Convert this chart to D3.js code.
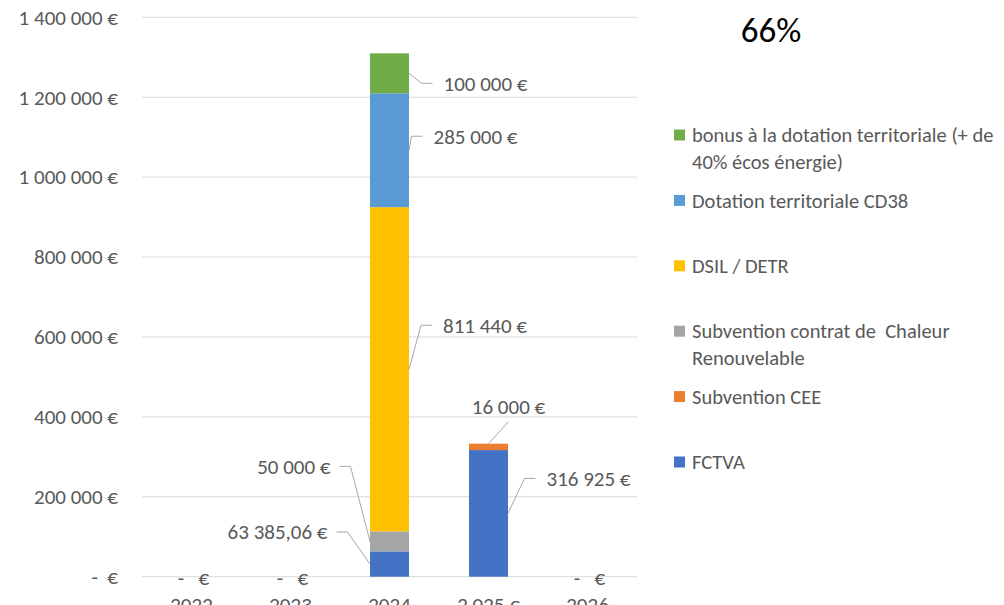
<!DOCTYPE html>
<html>
<head>
<meta charset="utf-8">
<script src="https://cdn.jsdelivr.net/npm/d3@7"></script>
<style>
  html, body { margin: 0; padding: 0; background: #fff; }
  svg { display: block; }
  text { font-family: Carlito, Calibri, Lato, sans-serif; }
</style>
</head>
<body>
<svg id="chart" width="1004" height="605"></svg>
<script>
// ---------- data ----------
const categories = ["2022", "2023", "2024", "2 025 €", "2026"];
const fctva    = [0, 0, 63385.06, 316925, 0];
const cee      = [0, 0, 0, 16000, 0];
const chaleur  = [0, 0, 50000, 0, 0];
const dsil     = [0, 0, 811440, 0, 0];
const dotation = [0, 0, 285000, 0, 0];
const bonus    = [0, 0, 100000, 0, 0];
const seriesKeys = ["FCTVA", "Subvention CEE", "Subvention contrat de  Chaleur Renouvelable", "DSIL / DETR", "Dotation territoriale CD38", "bonus à la dotation territoriale (+ de 40% écos énergie)"];
const seriesValues = [fctva, cee, chaleur, dsil, dotation, bonus];
const legendLines = [
  ["FCTVA"],
  ["Subvention CEE"],
  ["Subvention contrat de  Chaleur", "Renouvelable"],
  ["DSIL / DETR"],
  ["Dotation territoriale CD38"],
  ["bonus à la dotation territoriale (+ de", "40% écos énergie)"]
];
const yTicks = [0, 200000, 400000, 600000, 800000, 1000000, 1200000, 1400000];
const title = "66%";

// ---------- style / layout ----------
const colors = ["#4472C4", "#ED7D31", "#A5A5A5", "#FFC000", "#5B9BD5", "#70AD47"];
const textColor = "#595959";
const gridColor = "#D9D9D9";
const leaderColor = "#A6A6A6";
const fs = 21;
const legendFs = 20.5;
// label placement offsets (dx, dy from the anchor on the segment), side: 1 right, -1 left, 0 above
const labelLayout = [
  {s: 0, c: 2, dx: -42.5, dy: -32, side: -1},
  {s: 2, c: 2, dx: -39.5, dy: -75, side: -1},
  {s: 3, c: 2, dx: 34, dy: -44, side: 1},
  {s: 4, c: 2, dx: 24.5, dy: -14, side: 1},
  {s: 5, c: 2, dx: 34.5, dy: 10, side: 1},
  {s: 0, c: 3, dx: 38.5, dy: -35, side: 1},
  {s: 1, c: 3, dx: 20, dy: -37, side: 0}
];

const svg = d3.select("#chart");
const x = d3.scaleBand().domain(categories).range([142, 637]).paddingInner(0.606).paddingOuter(0.303);
const y = d3.scaleLinear().domain([0, 1400000]).range([576.7, 17.3]);

const locale = d3.formatLocale({decimal: ",", thousands: "\u00a0", grouping: [3], currency: ["", "\u00a0€"]});
const fmtInt = locale.format(",.0f");
const fmtDec = locale.format(",.2f");
const fmtEuro = v => (v % 1 !== 0 ? fmtDec(v) : fmtInt(v)) + "\u00a0€";

// gridlines
svg.append("g").selectAll("line").data(yTicks).join("line")
  .attr("x1", 142).attr("x2", 637)
  .attr("y1", d => y(d)).attr("y2", d => y(d))
  .attr("stroke", gridColor).attr("stroke-width", 1);

// y axis labels
svg.append("g").selectAll("text").data(yTicks).join("text")
  .attr("x", 118).attr("y", d => y(d)).attr("dy", "0.35em")
  .attr("text-anchor", "end").attr("fill", textColor).attr("font-size", fs)
  .attr("xml:space", "preserve").style("white-space", "pre")
  .text(d => d === 0 ? "-  €" : fmtEuro(d));

// stacked data
const table = categories.map((c, i) => {
  const o = {cat: c};
  seriesKeys.forEach((k, j) => o[k] = seriesValues[j][i]);
  return o;
});
const stacked = d3.stack().keys(seriesKeys)(table);

svg.append("g").selectAll("g").data(stacked).join("g")
  .attr("fill", (d, i) => colors[i])
  .selectAll("rect").data(d => d).join("rect")
  .attr("x", d => x(d.data.cat))
  .attr("width", x.bandwidth())
  .attr("y", d => y(d[1]))
  .attr("height", d => Math.max(0, y(d[0]) - y(d[1])));

// x axis labels (cut by the bottom edge, as in the reference)
svg.append("g").selectAll("text").data(categories).join("text")
  .attr("x", d => x(d) + x.bandwidth() / 2).attr("y", 612)
  .attr("text-anchor", "middle").attr("fill", textColor).attr("font-size", fs)
  .text(d => d);

// zero labels for FCTVA
svg.append("g").selectAll("text").data(categories.filter((c, i) => fctva[i] === 0)).join("text")
  .attr("x", d => x(d) + x.bandwidth() / 2 + 2).attr("y", 585)
  .attr("text-anchor", "middle").attr("fill", textColor).attr("font-size", fs)
  .attr("xml:space", "preserve").style("white-space", "pre")
  .text("-   €");

// data labels with leader lines
const lg = svg.append("g");
labelLayout.forEach(L => {
  const seg = stacked[L.s][L.c];
  const v = seriesValues[L.s][L.c];
  const left = x(categories[L.c]);
  const w = x.bandwidth();
  let ax, ay;
  const mid = (y(seg[0]) + y(seg[1])) / 2;
  if (L.side === 1) { ax = left + w; ay = mid; }
  else if (L.side === -1) { ax = left; ay = mid; }
  else { ax = left + w / 2; ay = y(seg[1]); }
  const tx = ax + L.dx, ty = ay + L.dy;
  let pts;
  if (L.side === 1) pts = [[ax, ay], [tx - 22, ty], [tx - 11, ty]];
  else if (L.side === -1) pts = [[ax, ay], [tx + 20, ty], [tx + 9, ty]];
  else pts = [[ax, ay], [tx, ty + 15]];
  lg.append("path").attr("d", d3.line()(pts))
    .attr("fill", "none").attr("stroke", leaderColor).attr("stroke-width", 1);
  lg.append("text")
    .attr("x", tx).attr("y", ty).attr("dy", "0.35em")
    .attr("text-anchor", L.side === 1 ? "start" : L.side === -1 ? "end" : "middle")
    .attr("fill", textColor).attr("font-size", fs)
    .text(fmtEuro(v));
});

// legend (top entry = last series)
const legendOrder = d3.range(seriesKeys.length).reverse();
const lgd = svg.append("g");
legendOrder.forEach((si, i) => {
  const cy = 135 + i * 65.4;
  lgd.append("rect").attr("x", 674).attr("y", cy - 5.5).attr("width", 11).attr("height", 11).attr("fill", colors[si]);
  legendLines[si].forEach((line, k) => {
    lgd.append("text").attr("x", 692).attr("y", cy + k * 26.5).attr("dy", "0.35em")
      .attr("fill", textColor).attr("font-size", legendFs)
      .attr("xml:space", "preserve").style("white-space", "pre")
      .text(line);
  });
});

// title
svg.append("text").attr("x", 771).attr("y", 42).attr("text-anchor", "middle")
  .attr("fill", "#000").attr("font-size", 35).text(title);
</script>
</body>
</html>
